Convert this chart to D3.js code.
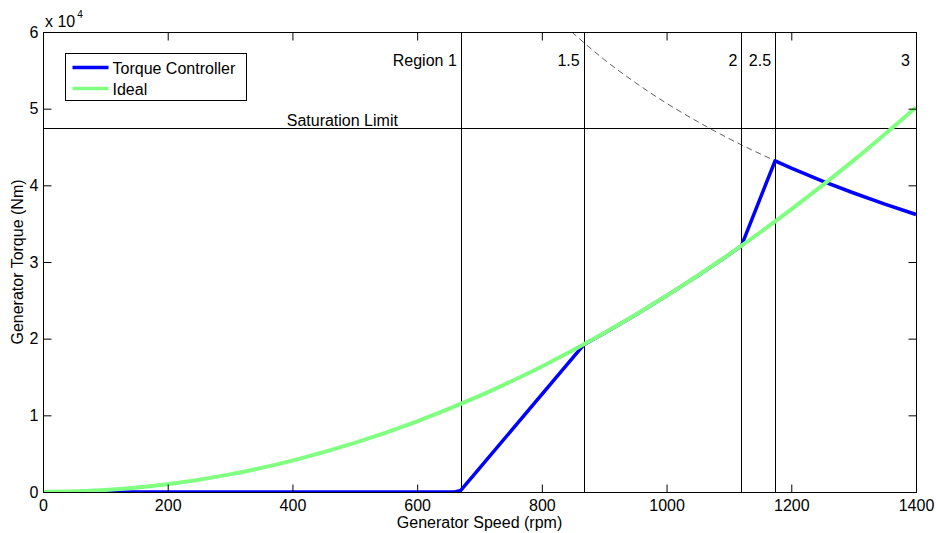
<!DOCTYPE html>
<html>
<head>
<meta charset="utf-8">
<script src="https://cdn.jsdelivr.net/npm/d3@7"></script>
<style>
  body { margin: 0; background: #fff; }
  text { font-family: "Liberation Sans", Arial, sans-serif; fill: #000; }
</style>
</head>
<body>
<div id="chart"></div>
<script>
// values (speed in rpm, torque in Nm)
var idealSpeed  = [0, 100, 200, 300, 400, 500, 600, 700, 800, 900, 1000, 1100, 1200, 1300, 1400];
var idealTorque = [0, 260, 1020, 2300, 4100, 6400, 9220, 12540, 16380, 20740, 25600, 30980, 36860, 43260, 50180];

var ctrlSpeed  = [100, 660, 670, 867, 900, 950, 1000, 1050, 1100, 1120, 1174, 1200, 1250, 1300, 1350, 1400];
var ctrlTorque = [0, 0, 200, 19200, 20700, 23100, 25600, 28200, 30950, 32100, 43200, 42250, 40550, 39000, 37550, 36200];

var powerSpeed  = [848, 900, 950, 1000, 1050, 1100, 1174];
var powerTorque = [60000, 56400, 53400, 50700, 48300, 46100, 43200];

var regionSpeed = [670, 867, 1120, 1174];
var regionNames = ['Region 1', '1.5', '2', '2.5', '3'];
var saturation = 47500;

var xTicks = [0, 200, 400, 600, 800, 1000, 1200, 1400];
var yTicks = [0, 10000, 20000, 30000, 40000, 50000, 60000];

var width = 936, height = 533;
var margin = {top: 32, left: 43, right: 20, bottom: 41};
var fontSize = '16px';

var svg = d3.select('#chart')
  .append('svg')
    .attr('width', width)
    .attr('height', height);

var x = d3.scaleLinear().domain([0, 1400]).range([margin.left, width - margin.right]);
var y = d3.scaleLinear().domain([0, 60000]).range([height - margin.bottom, margin.top]);

var pts = function(xs, ys){ return xs.map(function(d, i){ return [d, ys[i]]; }); };

// clip for the curves
svg.append('clipPath').attr('id', 'plot-clip')
  .append('rect')
    .attr('x', x(0)).attr('y', y(60000))
    .attr('width', x(1400) - x(0)).attr('height', y(0) - y(60000));

// region lines
svg.selectAll('line.region')
  .data(regionSpeed).enter()
  .append('line')
    .attr('class', 'region')
    .attr('x1', function(d){ return Math.round(x(d)) + 0.5; })
    .attr('x2', function(d){ return Math.round(x(d)) + 0.5; })
    .attr('y1', y(60000)).attr('y2', y(0))
    .style('stroke', '#000').style('stroke-width', 1);

// saturation limit
svg.append('line')
  .attr('x1', x(0)).attr('x2', x(1400))
  .attr('y1', Math.round(y(saturation)) + 0.5).attr('y2', Math.round(y(saturation)) + 0.5)
  .style('stroke', '#000').style('stroke-width', 1);
svg.append('text')
  .attr('x', x(480)).attr('y', 126)
  .attr('text-anchor', 'middle')
  .style('font-size', fontSize)
  .text('Saturation Limit');

// region labels
var labelX = [x(670) - 4, x(867) - 4, x(1120) - 4, x(1174) - 4, x(1400) - 6];
svg.selectAll('text.region')
  .data(regionNames).enter()
  .append('text')
    .attr('class', 'region')
    .attr('x', function(d, i){ return labelX[i]; })
    .attr('y', 66)
    .attr('text-anchor', 'end')
    .style('font-size', fontSize)
    .text(function(d){ return d; });

var g = svg.append('g').attr('clip-path', 'url(#plot-clip)');

// constant power (dashed)
g.append('path')
  .datum(pts(powerSpeed, powerTorque))
  .attr('d', d3.line().x(function(d){ return x(d[0]); }).y(function(d){ return y(d[1]); }).curve(d3.curveMonotoneX))
  .style('fill', 'none').style('stroke', '#333').style('stroke-width', 0.8)
  .style('stroke-dasharray', '6,4');

// torque controller
g.append('path')
  .datum(pts(ctrlSpeed, ctrlTorque))
  .attr('d', d3.line().x(function(d){ return x(d[0]); }).y(function(d){ return y(d[1]); }))
  .style('fill', 'none').style('stroke', '#0000ff').style('stroke-width', 3.5)
  .style('stroke-linejoin', 'round');

// ideal
g.append('path')
  .datum(pts(idealSpeed, idealTorque))
  .attr('d', d3.line().x(function(d){ return x(d[0]); }).y(function(d){ return y(d[1]); }).curve(d3.curveMonotoneX))
  .style('fill', 'none').style('stroke', '#80ff80').style('stroke-width', 4);

// axes box with inward ticks
var tick = 8;
svg.append('rect')
  .attr('x', x(0) + 0.5).attr('y', y(60000) + 0.5)
  .attr('width', x(1400) - x(0)).attr('height', y(0) - y(60000))
  .style('fill', 'none').style('stroke', '#000').style('stroke-width', 1);

var styleText = function(a){
  a.select('.domain').remove();
  a.selectAll('text').style('font-size', fontSize).style('font-family', '"Liberation Sans", Arial, sans-serif');
};
svg.append('g')
  .attr('transform', 'translate(0,' + (y(0) + 0.5) + ')')
  .call(d3.axisBottom(x).tickValues(xTicks).tickSize(-tick).tickPadding(7).tickFormat(d3.format('d')))
  .call(styleText);
svg.append('g')
  .attr('transform', 'translate(0,' + (y(60000) + 0.5) + ')')
  .call(d3.axisTop(x).tickValues(xTicks).tickSize(-tick).tickFormat(''))
  .call(styleText);
svg.append('g')
  .attr('transform', 'translate(' + (x(0) + 0.5) + ',0)')
  .call(d3.axisLeft(y).tickValues(yTicks).tickSize(-tick).tickPadding(5).tickFormat(function(d){ return d / 10000; }))
  .call(styleText);
svg.append('g')
  .attr('transform', 'translate(' + (x(1400) + 0.5) + ',0)')
  .call(d3.axisRight(y).tickValues(yTicks).tickSize(-tick).tickFormat(''))
  .call(styleText);

// exponent label
var ex = svg.append('text').attr('x', x(0) + 2).attr('y', 27).style('font-size', fontSize);
ex.append('tspan').text('x 10');
ex.append('tspan').attr('dx', 2).attr('dy', -9).style('font-size', '10px').text('4');

// axis titles
svg.append('text')
  .attr('x', (x(0) + x(1400)) / 2).attr('y', 528)
  .attr('text-anchor', 'middle').style('font-size', fontSize)
  .text('Generator Speed (rpm)');
svg.append('text')
  .attr('transform', 'translate(23,' + ((y(0) + y(60000)) / 2) + ') rotate(-90)')
  .attr('text-anchor', 'middle').style('font-size', fontSize)
  .text('Generator Torque (Nm)');

// legend
var legend = svg.append('g').attr('transform', 'translate(65.5,53.5)');
legend.append('rect').attr('width', 181).attr('height', 47)
  .style('fill', '#fff').style('stroke', '#000').style('stroke-width', 1);
var legendItems = [['Torque Controller', '#0000ff'], ['Ideal', '#80ff80']];
legend.selectAll('g.item')
  .data(legendItems).enter()
  .append('g')
    .attr('class', 'item')
    .attr('transform', function(d, i){ return 'translate(0,' + (14 + i * 21) + ')'; })
  .call(function(parent){
    parent.append('line').attr('x1', 7).attr('x2', 43)
      .style('stroke', function(d){ return d[1]; }).style('stroke-width', 3.5);
    parent.append('text').attr('x', 47).attr('y', 6).style('font-size', fontSize)
      .text(function(d){ return d[0]; });
  });
</script>
</body>
</html>
